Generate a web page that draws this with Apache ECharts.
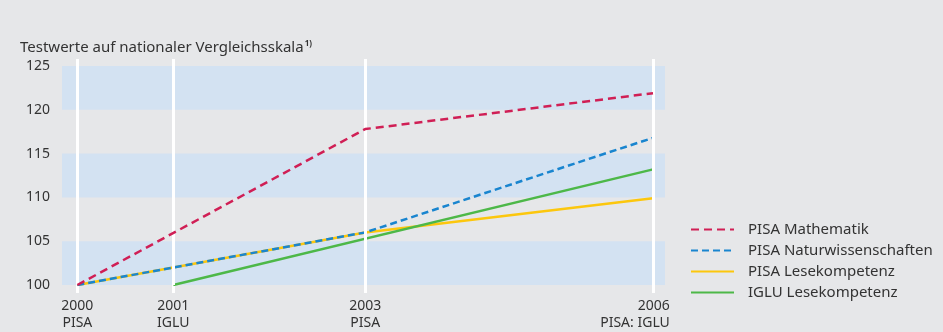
<!DOCTYPE html>
<html>
<head>
<meta charset="utf-8">
<script src="https://cdn.jsdelivr.net/npm/echarts@6/dist/echarts.min.js"></script>
<style>
    html, body { margin: 0; padding: 0; background: #e6e7e9; }
    #chart { width: 943px; height: 332px; }
</style>
</head>
<body>
<div id="chart"></div>
<script>
    // Erhebungsjahre
    var pisaYears = [2000, 2003, 2006];
    var igluYears = [2001, 2006];
    var tickYears = [2000, 2001, 2003, 2006];
    var tickLabels = ['2000\nPISA', '2001\nIGLU', '2003\nPISA', '2006\nPISA: IGLU'];

    // Testwerte (2000 bzw. 2001 = 100)
    var mathValues = [100, 117.8, 121.9];
    var sciValues = [100, 106, 116.8];
    var readValues = [100, 106, 109.9];
    var igluValues = [100, 113.2];

    var seriesNames = ['PISA Mathematik', 'PISA Naturwissenschaften', 'PISA Lesekompetenz', 'IGLU Lesekompetenz'];

    var font = '"Noto Sans", sans-serif';
    var textColor = '#333';

    function pairs (xs, ys) {
        return xs.map(function (x, i) { return [x, ys[i]]; });
    }

    var chart = echarts.init(document.getElementById('chart'));
    chart.setOption({
        backgroundColor: '#e6e7e9',
        animation: false,
        textStyle: { fontFamily: font },
        title: {
            left: 15,
            top: 35,
            text: '{a|Testwerte auf nationaler Vergleichsskala}{s|1)}',
            textStyle: {
                rich: {
                    a: { fontFamily: font, fontSize: 15, color: textColor, fontWeight: 'normal' },
                    s: { fontFamily: font, fontSize: 8, color: textColor, verticalAlign: 'top', padding: [0, 0, 7, 1] }
                }
            }
        },
        legend: {
            orient: 'vertical',
            left: 685,
            top: 217,
            itemWidth: 43,
            itemHeight: 14,
            itemGap: 6,
            data: seriesNames,
            itemStyle: { opacity: 0 },
            textStyle: { fontFamily: font, fontSize: 15, color: textColor, padding: [0, 0, 0, 9] }
        },
        grid: { left: 62, right: 278, top: 66, bottom: 43 },
        xAxis: [{
            type: 'value',
            min: 1999.84,
            max: 2006.125,
            axisLine: { show: false },
            splitLine: { show: false },
            axisTick: {
                customValues: tickYears,
                length: 8,
                lineStyle: { color: '#fff', width: 3 }
            },
            axisLabel: {
                customValues: tickYears,
                margin: 13,
                fontSize: 14,
                lineHeight: 17,
                color: textColor,
                formatter: function (v) {
                    var i = tickYears.indexOf(Math.round(v));
                    if (tickYears[i] === 2006) {
                        return '{r|2006}\n{r|PISA: IGLU}';
                    }
                    return tickLabels[i];
                },
                rich: {
                    r: { align: 'right', fontSize: 14, lineHeight: 17, color: textColor, padding: [0, 36, 0, 0] }
                }
            }
        }, {
            type: 'value',
            position: 'top',
            min: 1999.84,
            max: 2006.125,
            axisLine: { show: false },
            splitLine: { show: false },
            axisLabel: { show: false },
            axisTick: {
                customValues: tickYears,
                length: 7,
                lineStyle: { color: '#fff', width: 3 }
            }
        }],
        yAxis: {
            type: 'value',
            min: 100,
            max: 125,
            interval: 5,
            axisLine: { show: false },
            axisTick: { show: false },
            splitLine: { show: false },
            splitArea: {
                show: true,
                areaStyle: { color: ['#d3e2f2', 'rgba(0,0,0,0)'] }
            },
            axisLabel: { fontSize: 14, color: textColor, margin: 12 }
        },
        series: [{
            // weiße Hilfslinien an den Erhebungsjahren
            name: 'guides',
            type: 'line',
            data: [],
            z: 1,
            markLine: {
                silent: true,
                symbol: 'none',
                label: { show: false },
                lineStyle: { color: '#fff', width: 3, type: 'solid' },
                data: tickYears.map(function (y) { return { xAxis: y }; })
            }
        }, {
            name: seriesNames[2],
            type: 'line',
            symbol: 'none',
            z: 2,
            data: pairs(pisaYears, readValues),
            lineStyle: { color: '#fcc70d', width: 2.5 },
            itemStyle: { color: '#fcc70d' }
        }, {
            name: seriesNames[3],
            type: 'line',
            symbol: 'none',
            z: 3,
            data: pairs(igluYears, igluValues),
            lineStyle: { color: '#4db848', width: 2.5 },
            itemStyle: { color: '#4db848' }
        }, {
            name: seriesNames[1],
            type: 'line',
            symbol: 'none',
            z: 4,
            data: pairs(pisaYears, sciValues),
            lineStyle: { color: '#1985cf', width: 2.5, type: [7, 4] },
            itemStyle: { color: '#1985cf' }
        }, {
            name: seriesNames[0],
            type: 'line',
            symbol: 'none',
            z: 5,
            data: pairs(pisaYears, mathValues),
            lineStyle: { color: '#d01f55', width: 2.5, type: [8, 5] },
            itemStyle: { color: '#d01f55' }
        }]
    });
</script>
</body>
</html>
